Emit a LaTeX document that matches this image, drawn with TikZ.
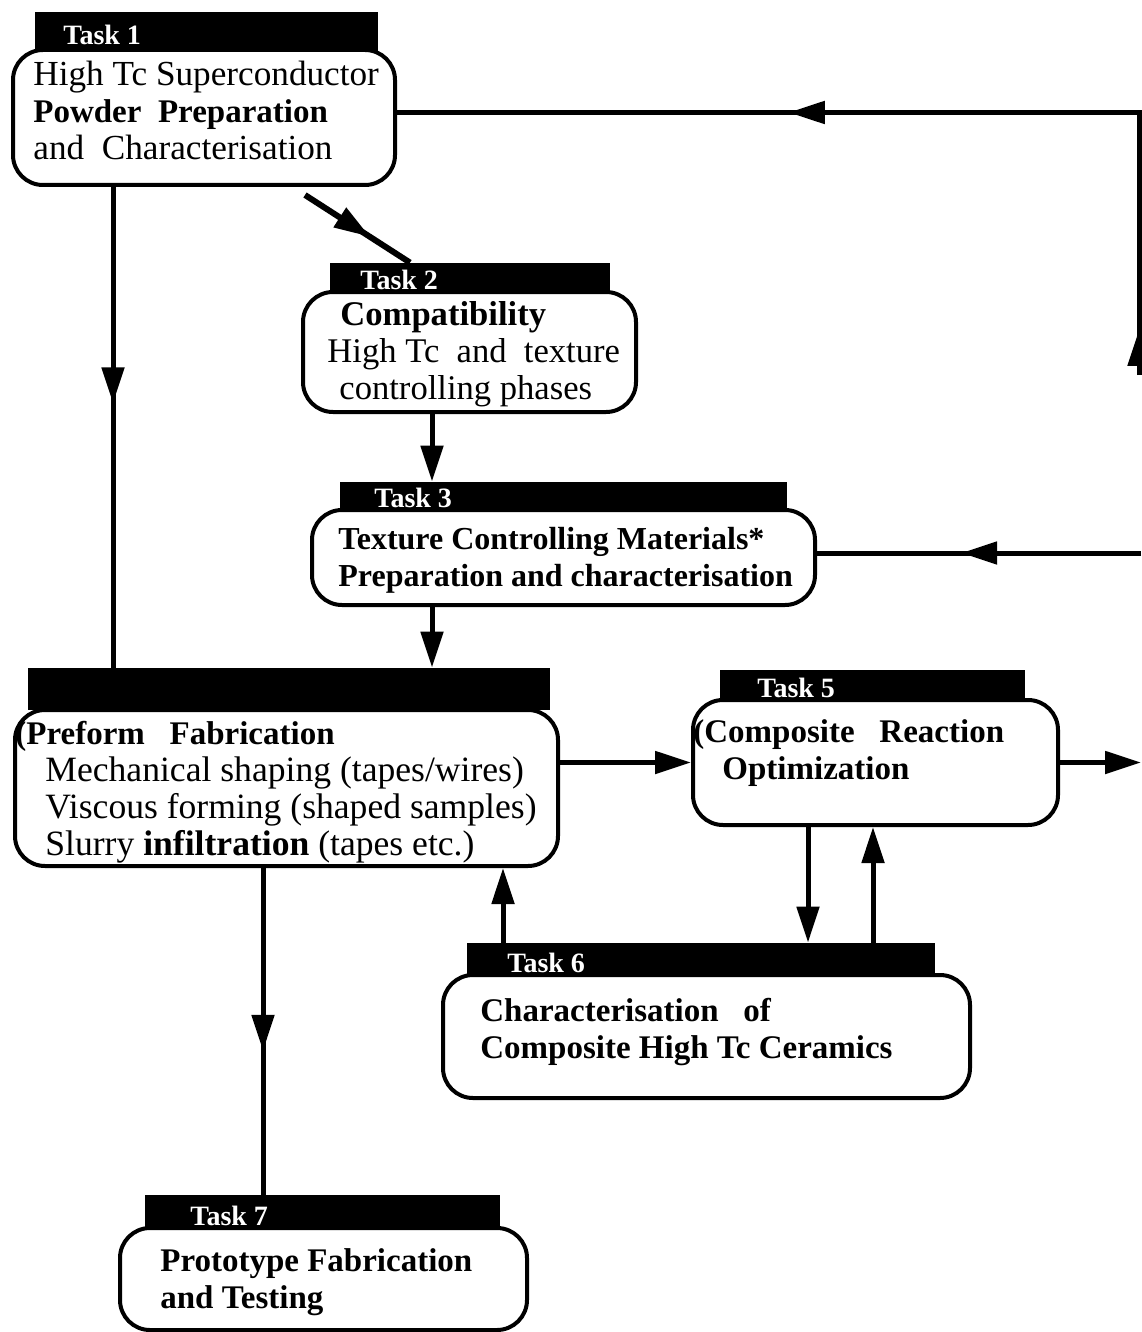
\documentclass[tikz,border=0pt]{standalone}
\usepackage{fontspec}
\setmainfont{Liberation Serif}
\usetikzlibrary{arrows.meta,fit,decorations.markings}

\tikzset{midtip/.style={postaction={decorate},decoration={markings,
  mark=at position #1 with {\arrow{Triangle[length=18pt,width=11pt]}}}}}

\begin{document}
\begin{tikzpicture}[x=0.5pt,y=-0.5pt]
\tikzstyle{taskbar}=[fill=black,inner sep=0pt]
\tikzstyle{taskbox}=[draw,line width=2pt,rounded corners=15pt,fill=white,inner sep=0pt]
\tikzstyle{tasktag}=[text=white,font=\fontsize{14}{14}\selectfont\bfseries,anchor=base west,inner sep=0pt]
\tikzstyle{tasktext}=[font=\fontsize{16.5}{18.5}\selectfont,align=left,anchor=north west,inner sep=0pt]
\tikzstyle{wire}=[line width=2.5pt]
\tikzstyle{flow}=[wire,-{Triangle[length=18pt,width=11pt]}]
\useasboundingbox (0,0) rectangle (1141,1332);

% Task 1
\node[taskbar,fit={(35,12) (378,52)}] (t1bar) {};
\node[taskbox,fit={(13,50) (395,185)}] (t1) {};
\node[tasktag] (t1tag) at (63,45) {Task 1};
\node[tasktext,font=\fontsize{17.6}{18.5}\selectfont] (t1text) at (33,61) {High Tc Superconductor\\{\fontsize{16.5}{18.5}\selectfont\bfseries Powder\ \ Preparation}\\and\ \ Characterisation};

% Task 2
\node[taskbar,fit={(330,263) (610,294)}] (t2bar) {};
\node[taskbox,fit={(303,292) (636,412)}] (t2) {};
\node[tasktag] (t2tag) at (360,289) {Task 2};
\node[tasktext,font=\fontsize{17.3}{18.5}\selectfont] (t2text) at (327,301) {\hspace*{6.5pt}\textbf{Compatibility}\\High Tc\ \ and\ \ texture\\\hspace*{6pt}controlling phases};

% Task 3
\node[taskbar,fit={(340,482) (787,512)}] (t3bar) {};
\node[taskbox,fit={(312,510) (815,605)}] (t3) {};
\node[tasktag] (t3tag) at (374,507) {Task 3};
\node[tasktext,font=\fontsize{16}{18.5}\selectfont\bfseries] (t3text) at (338,527) {Texture Controlling Materials*\\Preparation and characterisation};

% Task 4
\node[taskbar,fit={(28,668) (550,710)}] (t4bar) {};
\node[taskbox,fit={(15,710) (558,866)}] (t4) {};
\node[tasktext,font=\fontsize{17.8}{18.5}\selectfont] (t4text) at (15,721) {{\fontsize{16.5}{18.5}\selectfont\bfseries (Preform\ \ \ Fabrication}\\\hspace*{15pt}Mechanical shaping (tapes/wires)\\\hspace*{15pt}Viscous forming (shaped samples)\\\hspace*{15pt}Slurry \textbf{infiltration} (tapes etc.)};

% Task 5
\node[taskbar,fit={(720,670) (1025,702)}] (t5bar) {};
\node[taskbox,fit={(693,700) (1058,825)}] (t5) {};
\node[tasktag] (t5tag) at (757,697) {Task 5};
\node[tasktext,font=\fontsize{16.5}{18.5}\selectfont\bfseries] (t5text) at (693,719) {(Composite\ \ \ Reaction\\\hspace*{14.5pt}Optimization};

% Task 6
\node[taskbar,fit={(467,943) (935,977)}] (t6bar) {};
\node[taskbox,fit={(443,975) (970,1098)}] (t6) {};
\node[tasktag] (t6tag) at (507,972) {Task 6};
\node[tasktext,font=\fontsize{16.5}{18.5}\selectfont\bfseries] (t6text) at (480,998) {Characterisation\ \ \ of\\Composite High Tc Ceramics};

% Task 7
\node[taskbar,fit={(145,1195) (500,1230)}] (t7bar) {};
\node[taskbox,fit={(120,1228) (527,1330)}] (t7) {};
\node[tasktag] (t7tag) at (190,1225) {Task 7};
\node[tasktext,font=\fontsize{16.5}{18.5}\selectfont\bfseries] (t7text) at (160,1248) {Prototype Fabrication\\and Testing};

% loose ends at the right margin
\coordinate (r1) at (1139,375);
\coordinate (r3) at (1141,553);
\coordinate (r5) at (1141,762.5);

% connectors
\draw[wire,midtip=0.45] ([xshift=-45.5pt]t1.south) -- ([xshift=-88pt]t4bar.north);
\draw[wire,line width=3pt,midtip=0.62] ([xshift=50.5pt,yshift=-4pt]t1.south) -- ([xshift=-30pt]t2bar.north);
\draw[flow] ([xshift=-18.75pt]t2.south) -- ([xshift=-65.75pt]t3bar.north);
\draw[flow] ([xshift=-65.75pt]t3.south) -- ([xshift=71.5pt]t4bar.north);
\draw[wire,midtip=0.555] (r3) -- (t3.east |- r3);
\draw[flow] (t4.east |- t5.west) -- (t5.west);
\draw[flow] (t5.east) -- (r5);
\draw[flow] ([xshift=-33.75pt]t5.south) -- ([xshift=53.5pt]t6bar.north);
\draw[flow] ([xshift=86pt]t6bar.north) -- ([xshift=-1.25pt]t5.south);
\draw[flow] ([xshift=-99pt]t6bar.north) -- ([xshift=108.25pt]t4.south);
\draw[wire,midtip=0.56] ([xshift=-11.75pt]t4.south) -- ([xshift=-29.75pt]t7bar.north);
\draw[wire,postaction={decorate},decoration={markings,
  mark=at position 0.045 with {\arrow{Triangle[length=18pt,width=11pt]}},
  mark=at position 0.61 with {\arrow{Triangle[length=18pt,width=11pt]}}}]
  (r1) |- ([yshift=2.5pt]t1.east);
\end{tikzpicture}
\end{document}
